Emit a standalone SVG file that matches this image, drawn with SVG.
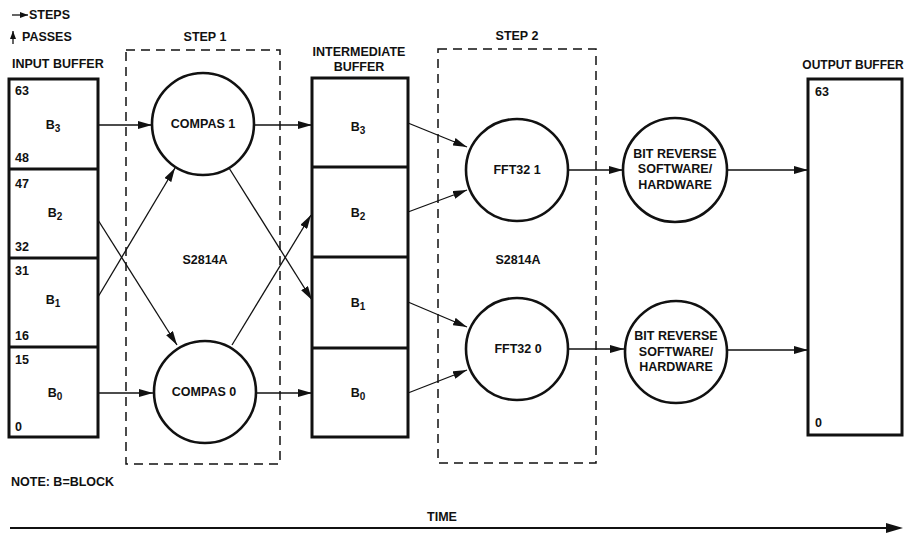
<svg xmlns="http://www.w3.org/2000/svg" width="908" height="533" viewBox="0 0 908 533">
<style>
text{font-family:"Liberation Sans",Arial,sans-serif;font-weight:bold;font-size:12.5px;fill:#111}
.m{text-anchor:middle}
.box{fill:none;stroke:#111;stroke-width:3}
.div{stroke:#111;stroke-width:3}
.cir{fill:#fff;stroke:#111;stroke-width:2.6}
.dash{fill:none;stroke:#111;stroke-width:1.5;stroke-dasharray:9 6}
.con{stroke:#111;stroke-width:1.3;fill:none;marker-end:url(#ah)}
.sub{font-size:10px}
</style>
<defs>
<marker id="ah" markerUnits="userSpaceOnUse" markerWidth="14" markerHeight="8" viewBox="0 0 14 8" refX="14" refY="4" orient="auto">
<path d="M0,0 L14,4 L0,8 Z" fill="#111"/>
</marker>
<marker id="ahs" markerUnits="userSpaceOnUse" markerWidth="8" markerHeight="6" viewBox="0 0 8 6" refX="8" refY="3" orient="auto">
<path d="M0,0 L8,3 L0,6 Z" fill="#111"/>
</marker>
</defs>
<g id="legend">
<line x1="12" y1="15" x2="28" y2="15" stroke="#111" stroke-width="1.3" marker-end="url(#ahs)"/>
<text x="29" y="19">STEPS</text>
<line x1="13" y1="44" x2="13" y2="31" stroke="#111" stroke-width="1.3" marker-end="url(#ahs)"/>
<text x="22" y="41">PASSES</text>
</g>
<g id="step1">
<rect class="dash" x="126" y="50" width="154" height="414"/>
<text class="m" x="205" y="41">STEP 1</text>
<text class="m" x="205" y="264">S2814A</text>
</g>
<g id="step2">
<rect class="dash" x="438" y="49" width="158" height="414"/>
<text class="m" x="517" y="40">STEP 2</text>
<text class="m" x="518" y="264">S2814A</text>
</g>
<g id="connectors">
<line class="con" x1="98" y1="125" x2="152" y2="125"/>
<line class="con" x1="98" y1="220" x2="177" y2="345"/>
<line class="con" x1="98" y1="297" x2="175" y2="168"/>
<line class="con" x1="98" y1="393" x2="153" y2="393"/>
<line class="con" x1="254" y1="125" x2="312" y2="125"/>
<line class="con" x1="229" y1="168" x2="312" y2="300"/>
<line class="con" x1="232" y1="345" x2="311" y2="215"/>
<line class="con" x1="256" y1="393" x2="312" y2="393"/>
<line class="con" x1="408" y1="123" x2="467" y2="147"/>
<line class="con" x1="408" y1="212" x2="467" y2="190"/>
<line class="con" x1="408" y1="302" x2="467" y2="327"/>
<line class="con" x1="408" y1="393" x2="467" y2="370"/>
<line class="con" x1="568" y1="170" x2="623" y2="170"/>
<line class="con" x1="568" y1="349" x2="624" y2="349"/>
<line class="con" x1="727" y1="170" x2="808" y2="170"/>
<line class="con" x1="728" y1="350" x2="808" y2="350"/>
<line x1="10" y1="528" x2="888" y2="528" stroke="#111" stroke-width="1.8"/>
<path d="M886,523 L903,528 L886,533 Z" fill="#111"/>
</g>
<g id="input-buffer">
<text x="12" y="68">INPUT BUFFER</text>
<rect class="box" x="9" y="79" width="89" height="358"/>
<line class="div" x1="9" y1="169" x2="98" y2="169"/>
<line class="div" x1="9" y1="258" x2="98" y2="258"/>
<line class="div" x1="9" y1="347" x2="98" y2="347"/>
<text x="15" y="95">63</text>
<text x="15" y="162">48</text>
<text x="15" y="188">47</text>
<text x="15" y="251">32</text>
<text x="15" y="275">31</text>
<text x="15" y="340">16</text>
<text x="15" y="364">15</text>
<text x="15" y="431">0</text>
<text class="m" x="53" y="129">B<tspan class="sub" dy="3">3</tspan></text>
<text class="m" x="55" y="217">B<tspan class="sub" dy="3">2</tspan></text>
<text class="m" x="53" y="304">B<tspan class="sub" dy="3">1</tspan></text>
<text class="m" x="55" y="397">B<tspan class="sub" dy="3">0</tspan></text>
</g>
<g id="compas1">
<circle class="cir" cx="203" cy="124" r="51"/>
<text class="m" x="203" y="128">COMPAS 1</text>
</g>
<g id="compas0">
<circle class="cir" cx="205" cy="392" r="51"/>
<text class="m" x="204" y="396">COMPAS 0</text>
</g>
<g id="intermediate-buffer">
<text class="m" x="359" y="56">INTERMEDIATE</text>
<text class="m" x="359" y="71">BUFFER</text>
<rect class="box" x="312" y="78" width="96" height="359"/>
<line class="div" x1="312" y1="167" x2="408" y2="167"/>
<line class="div" x1="312" y1="257" x2="408" y2="257"/>
<line class="div" x1="312" y1="348" x2="408" y2="348"/>
<text class="m" x="358" y="131">B<tspan class="sub" dy="3">3</tspan></text>
<text class="m" x="358" y="217">B<tspan class="sub" dy="3">2</tspan></text>
<text class="m" x="358" y="307">B<tspan class="sub" dy="3">1</tspan></text>
<text class="m" x="358" y="397">B<tspan class="sub" dy="3">0</tspan></text>
</g>
<g id="fft32-1">
<circle class="cir" cx="517" cy="170" r="51"/>
<text class="m" x="517" y="174">FFT32 1</text>
</g>
<g id="fft32-0">
<circle class="cir" cx="517" cy="349" r="51"/>
<text class="m" x="518" y="353">FFT32 0</text>
</g>
<g id="bit-reverse-1">
<circle class="cir" cx="675" cy="170" r="52"/>
<text class="m" x="675" y="158">BIT REVERSE</text>
<text class="m" x="675" y="173">SOFTWARE/</text>
<text class="m" x="675" y="189">HARDWARE</text>
</g>
<g id="bit-reverse-0">
<circle class="cir" cx="676" cy="352" r="51"/>
<text class="m" x="676" y="340">BIT REVERSE</text>
<text class="m" x="676" y="356">SOFTWARE/</text>
<text class="m" x="676" y="371">HARDWARE</text>
</g>
<g id="output-buffer">
<text class="m" x="853" y="69" style="font-size:12px">OUTPUT BUFFER</text>
<rect class="box" x="808" y="79" width="94" height="356"/>
<text x="815" y="96">63</text>
<text x="815" y="427">0</text>
</g>
<g id="note">
<text x="11" y="486">NOTE: B=BLOCK</text>
</g>
<g id="time">
<text class="m" x="442" y="521">TIME</text>
</g>
</svg>
